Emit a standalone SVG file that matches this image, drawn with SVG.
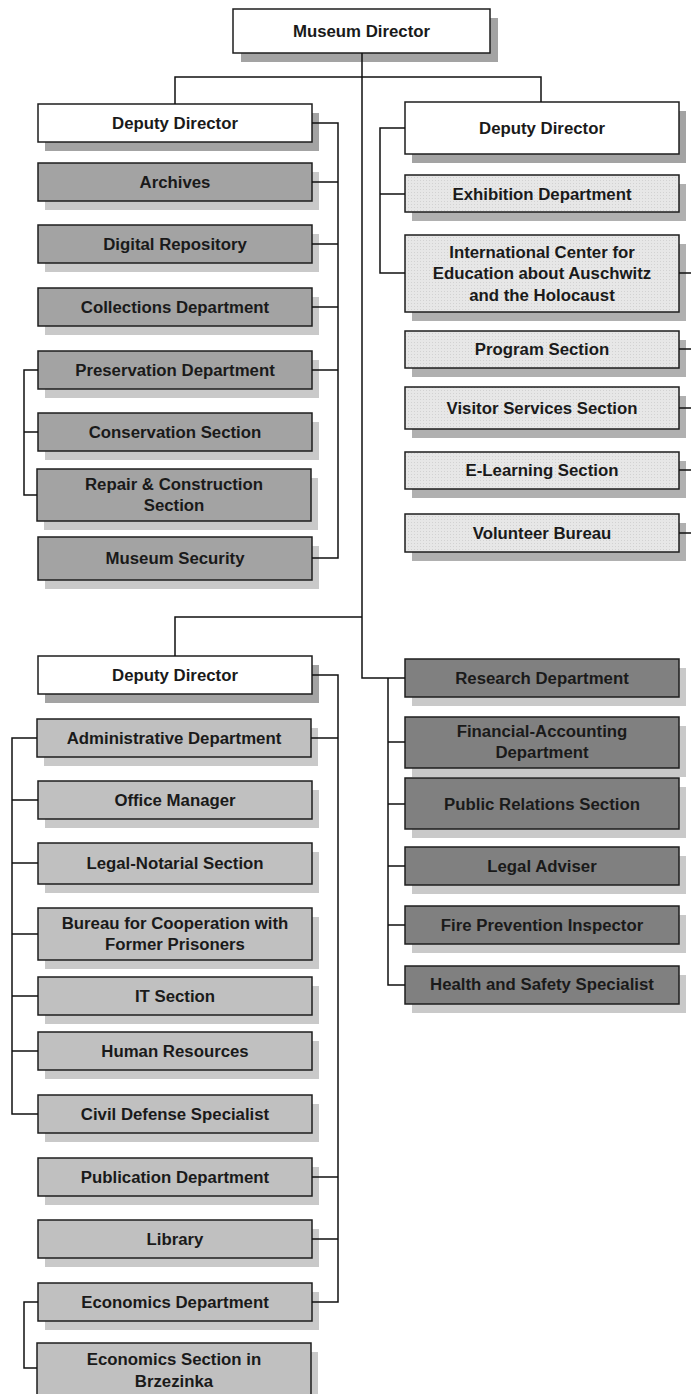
<svg xmlns="http://www.w3.org/2000/svg" width="691" height="1394" viewBox="0 0 691 1394">
<defs>
<pattern id="dots" width="3" height="3" patternUnits="userSpaceOnUse"><rect width="3" height="3" fill="#e7e7e7"/><rect width="1" height="1" fill="#d2d2d2"/></pattern>
<style>
.sd{fill:#a3a3a3}
.sl{fill:#c9c9c9}
.sm{fill:#b0b0b0}
.b{stroke:#1e1e1e;stroke-width:1.5}
.w{fill:#ffffff}
.g1{fill:#a3a3a3}
.g2{fill:url(#dots)}
.g3{fill:#c0c0c0}
.g4{fill:#808080}
.t{font-family:"Liberation Sans",Arial,sans-serif;font-size:16.8px;font-weight:bold;fill:#1a1a1a;text-anchor:middle}
.c{fill:none;stroke:#111;stroke-width:1.5}
</style>
</defs>
<rect width="691" height="1394" fill="#ffffff"/>

<g id="museum-director"><rect class="sd" x="241" y="18" width="257" height="44"/><rect class="b w" x="233" y="9" width="257" height="44"/><text class="t" x="361.5" y="37">Museum Director</text></g>

<!-- Group 1 -->
<g id="deputy-director-1"><rect class="sd" x="45" y="113" width="274" height="38"/><rect class="b w" x="38" y="104" width="274" height="38"/><text class="t" x="175" y="129">Deputy Director</text></g>
<g id="archives"><rect class="sl" x="45" y="172" width="274" height="38"/><rect class="b g1" x="38" y="163" width="274" height="38"/><text class="t" x="175" y="188">Archives</text></g>
<g id="digital-repository"><rect class="sl" x="45" y="234" width="274" height="38"/><rect class="b g1" x="38" y="225" width="274" height="38"/><text class="t" x="175" y="250">Digital Repository</text></g>
<g id="collections-department"><rect class="sl" x="45" y="297" width="274" height="38"/><rect class="b g1" x="38" y="288" width="274" height="38"/><text class="t" x="175" y="313">Collections Department</text></g>
<g id="preservation-department"><rect class="sl" x="45" y="360" width="274" height="38"/><rect class="b g1" x="38" y="351" width="274" height="38"/><text class="t" x="175" y="376">Preservation Department</text></g>
<g id="conservation-section"><rect class="sl" x="45" y="422" width="274" height="38"/><rect class="b g1" x="38" y="413" width="274" height="38"/><text class="t" x="175" y="438">Conservation Section</text></g>
<g id="repair-construction-section"><rect class="sl" x="44" y="478" width="274" height="52"/><rect class="b g1" x="37" y="469" width="274" height="52"/><text class="t" x="174" y="490">Repair &amp; Construction</text><text class="t" x="174" y="511">Section</text></g>
<g id="museum-security"><rect class="sl" x="45" y="546" width="274" height="43"/><rect class="b g1" x="38" y="537" width="274" height="43"/><text class="t" x="175" y="564">Museum Security</text></g>

<!-- Group 2 -->
<g id="deputy-director-2"><rect class="sd" x="412" y="111" width="274" height="52"/><rect class="b w" x="405" y="102" width="274" height="52"/><text class="t" x="542" y="134">Deputy Director</text></g>
<g id="exhibition-department"><rect class="sm" x="412" y="184" width="274" height="37"/><rect class="b g2" x="405" y="175" width="274" height="37"/><text class="t" x="542" y="200">Exhibition Department</text></g>
<g id="international-center"><rect class="sm" x="412" y="244" width="274" height="77"/><rect class="b g2" x="405" y="235" width="274" height="77"/><text class="t" x="542" y="258">International Center for</text><text class="t" x="542" y="279">Education about Auschwitz</text><text class="t" x="542" y="301">and the Holocaust</text></g>
<g id="program-section"><rect class="sm" x="412" y="340" width="274" height="37"/><rect class="b g2" x="405" y="331" width="274" height="37"/><text class="t" x="542" y="355">Program Section</text></g>
<g id="visitor-services-section"><rect class="sm" x="412" y="396" width="274" height="42"/><rect class="b g2" x="405" y="387" width="274" height="42"/><text class="t" x="542" y="414">Visitor Services Section</text></g>
<g id="e-learning-section"><rect class="sm" x="412" y="461" width="274" height="37"/><rect class="b g2" x="405" y="452" width="274" height="37"/><text class="t" x="542" y="476">E-Learning Section</text></g>
<g id="volunteer-bureau"><rect class="sm" x="412" y="523" width="274" height="38"/><rect class="b g2" x="405" y="514" width="274" height="38"/><text class="t" x="542" y="539">Volunteer Bureau</text></g>

<!-- Group 3 -->
<g id="deputy-director-3"><rect class="sd" x="45" y="665" width="274" height="38"/><rect class="b w" x="38" y="656" width="274" height="38"/><text class="t" x="175" y="681">Deputy Director</text></g>
<g id="administrative-department"><rect class="sl" x="44" y="728" width="274" height="38"/><rect class="b g3" x="37" y="719" width="274" height="38"/><text class="t" x="174" y="744">Administrative Department</text></g>
<g id="office-manager"><rect class="sl" x="45" y="790" width="274" height="38"/><rect class="b g3" x="38" y="781" width="274" height="38"/><text class="t" x="175" y="806">Office Manager</text></g>
<g id="legal-notarial-section"><rect class="sl" x="45" y="852" width="274" height="41"/><rect class="b g3" x="38" y="843" width="274" height="41"/><text class="t" x="175" y="869">Legal-Notarial Section</text></g>
<g id="bureau-cooperation"><rect class="sl" x="45" y="917" width="274" height="52"/><rect class="b g3" x="38" y="908" width="274" height="52"/><text class="t" x="175" y="929">Bureau for Cooperation with</text><text class="t" x="175" y="950">Former Prisoners</text></g>
<g id="it-section"><rect class="sl" x="45" y="986" width="274" height="38"/><rect class="b g3" x="38" y="977" width="274" height="38"/><text class="t" x="175" y="1002">IT Section</text></g>
<g id="human-resources"><rect class="sl" x="45" y="1041" width="274" height="38"/><rect class="b g3" x="38" y="1032" width="274" height="38"/><text class="t" x="175" y="1057">Human Resources</text></g>
<g id="civil-defense-specialist"><rect class="sl" x="45" y="1104" width="274" height="38"/><rect class="b g3" x="38" y="1095" width="274" height="38"/><text class="t" x="175" y="1120">Civil Defense Specialist</text></g>
<g id="publication-department"><rect class="sl" x="45" y="1167" width="274" height="38"/><rect class="b g3" x="38" y="1158" width="274" height="38"/><text class="t" x="175" y="1183">Publication Department</text></g>
<g id="library"><rect class="sl" x="45" y="1229" width="274" height="38"/><rect class="b g3" x="38" y="1220" width="274" height="38"/><text class="t" x="175" y="1245">Library</text></g>
<g id="economics-department"><rect class="sl" x="45" y="1292" width="274" height="38"/><rect class="b g3" x="38" y="1283" width="274" height="38"/><text class="t" x="175" y="1308">Economics Department</text></g>
<g id="economics-section-brzezinka"><rect class="sl" x="44" y="1352" width="274" height="55"/><rect class="b g3" x="37" y="1343" width="274" height="55"/><text class="t" x="174" y="1365">Economics Section in</text><text class="t" x="174" y="1387">Brzezinka</text></g>

<!-- Group 4 -->
<g id="research-department"><rect class="sl" x="412" y="668" width="274" height="38"/><rect class="b g4" x="405" y="659" width="274" height="38"/><text class="t" x="542" y="684">Research Department</text></g>
<g id="financial-accounting-department"><rect class="sl" x="412" y="726" width="274" height="51"/><rect class="b g4" x="405" y="717" width="274" height="51"/><text class="t" x="542" y="737">Financial-Accounting</text><text class="t" x="542" y="758">Department</text></g>
<g id="public-relations-section"><rect class="sl" x="412" y="787" width="274" height="51"/><rect class="b g4" x="405" y="778" width="274" height="51"/><text class="t" x="542" y="810">Public Relations Section</text></g>
<g id="legal-adviser"><rect class="sl" x="412" y="856" width="274" height="38"/><rect class="b g4" x="405" y="847" width="274" height="38"/><text class="t" x="542" y="872">Legal Adviser</text></g>
<g id="fire-prevention-inspector"><rect class="sl" x="412" y="915" width="274" height="38"/><rect class="b g4" x="405" y="906" width="274" height="38"/><text class="t" x="542" y="931">Fire Prevention Inspector</text></g>
<g id="health-safety-specialist"><rect class="sl" x="412" y="975" width="274" height="38"/><rect class="b g4" x="405" y="966" width="274" height="38"/><text class="t" x="542" y="990">Health and Safety Specialist</text></g>

<g id="connectors" class="c">
<path d="M362 53 V678 H405"/>
<path d="M175 104 V77 H541 V102"/>
<path d="M175 656 V617 H362"/>
<path d="M312 123 H338 V558 H312 M312 182 H338 M312 244 H338 M312 307 H338 M312 370 H338"/>
<path d="M38 370 H24 V495 H37 M24 432 H38"/>
<path d="M405 128 H380 V273 H405 M380 194 H405"/>
<path d="M679 273 H691 M679 349 H691 M679 408 H691 M679 470 H691 M679 533 H691"/>
<path d="M312 675 H338 V1302 H312 M311 738 H338 M312 1177 H338 M312 1239 H338"/>
<path d="M37 738 H12 V1114 H38 M12 800 H38 M12 863 H38 M12 934 H38 M12 996 H38 M12 1051 H38"/>
<path d="M38 1302 H24 V1368 H37"/>
<path d="M388 678 V985 H405 M388 742 H405 M388 804 H405 M388 866 H405 M388 925 H405"/>
</g>
</svg>
